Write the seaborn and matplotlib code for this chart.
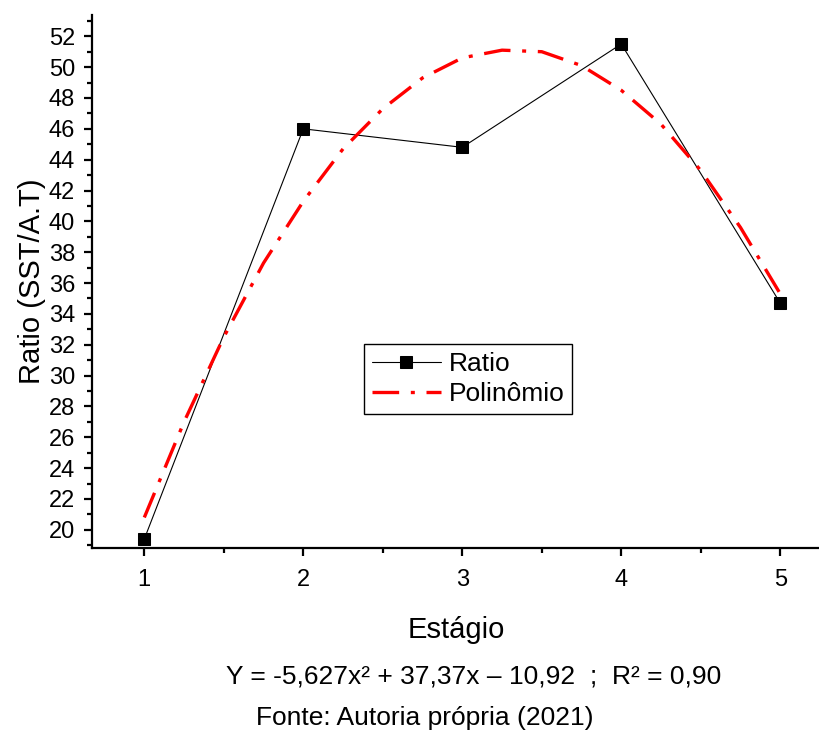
"""
Ratio (SST/A.T) per stage with a quadratic fit.
"""
import seaborn as sns
import matplotlib.pyplot as plt
import pandas as pd
from matplotlib.ticker import MultipleLocator

sns.set_style('ticks', {'axes.spines.right': False, 'axes.spines.top': False,
                        'text.color': 'black', 'axes.labelcolor': 'black',
                        'xtick.color': 'black', 'ytick.color': 'black'})
plt.rcParams['font.family'] = ['Liberation Sans', 'DejaVu Sans']

# measured values
estagio = [1, 2, 3, 4, 5]
ratio = [19.4, 46.0, 44.8, 51.5, 34.7]

# fitted curve
fit_x = [1.0, 1.25, 1.5, 1.75, 2.0, 2.25, 2.5, 2.75, 3.0, 3.25, 3.5, 3.75, 4.0, 4.25, 4.5, 4.75, 5.0]
fit_y = [20.8, 27.0, 32.5, 37.3, 41.3, 44.7, 47.3, 49.3, 50.6, 51.1, 51.0, 50.1, 48.5, 46.3, 43.3, 39.6, 35.3]

df = pd.DataFrame({'x': estagio, 'y': ratio})
fit = pd.DataFrame({'x': fit_x, 'y': fit_y})

fig = plt.figure(figsize=(8.2, 7.35), dpi=100)
ax = fig.add_axes([0.112, 0.254, 0.888, 0.726])

sns.lineplot(data=df, x='x', y='y', ax=ax, color='black', lw=0.8,
             marker='s', markersize=9, markeredgecolor='black', label='Ratio')
sns.lineplot(data=fit, x='x', y='y', ax=ax, color='red', lw=2.4,
             linestyle=(0, (8, 3.5, 1.2, 3.5)), label='Polinômio')

ax.set_xlim(0.67, 5.25)
ax.set_ylim(18.8, 53.4)
ax.xaxis.set_major_locator(MultipleLocator(1))
ax.xaxis.set_minor_locator(MultipleLocator(0.5))
ax.yaxis.set_major_locator(MultipleLocator(2))
ax.yaxis.set_minor_locator(MultipleLocator(1))
ax.tick_params(which='major', length=6, width=1.6, labelsize=17, color='black',
               labelcolor='black', pad=6)
ax.tick_params(axis='x', which='major', pad=9)
ax.tick_params(which='minor', length=3.5, width=1.6, color='black')
for s in ('left', 'bottom'):
    ax.spines[s].set_linewidth(1.6)
    ax.spines[s].set_color('black')

ax.set_xlabel('Estágio', fontsize=21, labelpad=18, color='black')
ax.set_ylabel('Ratio (SST/A.T)', fontsize=21, labelpad=2, color='black')

leg = ax.legend(loc='upper left', bbox_to_anchor=(0.374, 0.383), borderaxespad=0,
                fontsize=19, frameon=True, fancybox=False, framealpha=1,
                edgecolor='black', handlelength=2.6, handletextpad=0.3,
                borderpad=0.3, labelspacing=0.25)
leg.get_frame().set_linewidth(1.0)
for t in leg.get_texts():
    t.set_color('black')

fig.text(0.577, 0.08, 'Y = -5,627x² + 37,37x – 10,92  ;  R² = 0,90',
         ha='center', va='center', fontsize=19, color='black')
fig.text(0.518, 0.023, 'Fonte: Autoria própria (2021)',
         ha='center', va='center', fontsize=19, color='black')

fig.savefig('out.png', dpi=100)
